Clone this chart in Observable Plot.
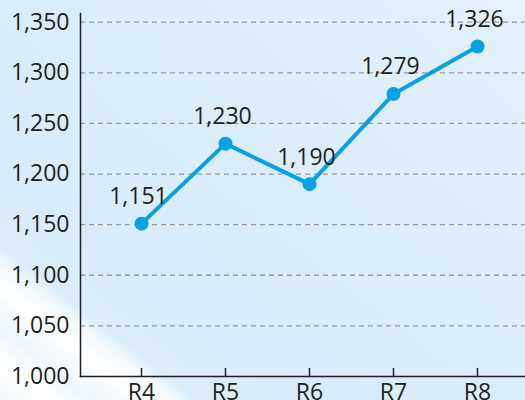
<!DOCTYPE html>
<html><head><meta charset="utf-8">
<script src="https://cdn.jsdelivr.net/npm/d3@7"></script>
<script src="https://cdn.jsdelivr.net/npm/@observablehq/plot@0.6"></script>
<style>
html,body{margin:0;padding:0;width:525px;height:400px;overflow:hidden;}
body{background: linear-gradient(218deg, #e3f2fc 0%, #dbedf9 45%, #d9ecf9 70%, #dcedf9 81%, #f3f9fd 83%, #ffffff 86%, #eef6fc 91%, #ffffff 95%, #f2f8fd 100%);}
#chart svg{display:block;}
</style></head><body><div id="chart"></div>
<script>
const rounds = ["R4", "R5", "R6", "R7", "R8"];
const values = [1151, 1230, 1190, 1279, 1326];
const yTicks = [1000, 1050, 1100, 1150, 1200, 1250, 1300, 1350];
const gridTicks = [1050, 1100, 1150, 1200, 1250, 1300, 1350];

const data = rounds.map((r, i) => ({round: r, value: values[i]}));
const fmt = d3.format(",");
const ink = "#231f20";
const blue = "#0aa0e6";

const chart = Plot.plot({
  width: 525, height: 400,
  marginLeft: 80, marginRight: 0, marginTop: 13, marginBottom: 24,
  style: {background: "transparent", fontFamily: "'Open Sans', sans-serif", fontSize: "23px", color: ink, overflow: "visible"},
  x: {type: "point", domain: rounds, range: [139.5, 478], padding: 0, label: null},
  y: {domain: [1000, 1350], range: [376, 21.7], label: null},
  marks: [
    Plot.ruleY(gridTicks, {stroke: "#9a9a9a", strokeDasharray: "5,4", strokeWidth: 1.3, strokeOpacity: 1}),
    Plot.axisY(yTicks, {tickSize: 0, tickPadding: 11, tickFormat: fmt, fontSize: 23, fill: ink, label: null}),
    Plot.axisX({tickSize: 0, tickPadding: 7, fontSize: 23, fill: ink, label: null}),
    Plot.ruleX(rounds, {x: d => d, y1: 1000, y2: 1008, stroke: ink, strokeWidth: 1.5}),
    Plot.frame({anchor: "left", stroke: ink, strokeWidth: 1.5}),
    Plot.frame({anchor: "bottom", stroke: ink, strokeWidth: 1.5}),
    Plot.line(data, {x: "round", y: "value", stroke: blue, strokeWidth: 4}),
    Plot.dot(data, {x: "round", y: "value", r: 7, fill: blue, stroke: "none"}),
    Plot.text(data, {x: "round", y: "value", text: d => fmt(d.value), dy: -27, dx: -3, fontSize: 23, fill: ink})
  ]
});
document.getElementById("chart").appendChild(chart);
</script>
</body></html>
